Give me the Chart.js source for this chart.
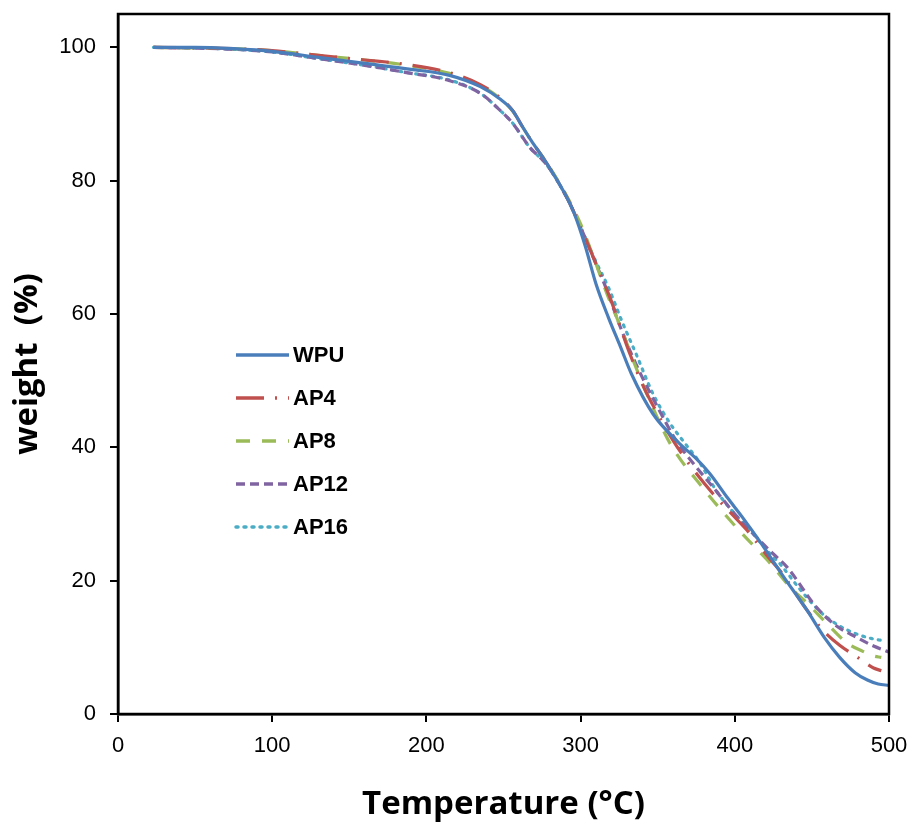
<!DOCTYPE html>
<html>
<head>
<meta charset="utf-8">
<script src="https://cdn.jsdelivr.net/npm/chart.js@4/dist/chart.umd.min.js"></script>
<style>
  html, body { margin: 0; padding: 0; background: #fff; }
  #wrap { width: 913px; height: 823px; position: relative; }
</style>
</head>
<body>
<div id="wrap"><canvas id="chart"></canvas></div>
<script>
// TGA curves, [temperature °C, weight %]
const wpu = [[23,100],[50,100],[75,99.8],[100,99.4],[130,98.5],[160,97.6],[190,96.7],[215,95.8],[235,94.1],[248,92.2],[256,90.5],[262,88.2],[268,86],[278,82.6],[291,77.5],[296,75],[303,70.2],[310,64.5],[318,59.5],[326,55],[333,51],[347,45],[364,40.6],[375,38.3],[384,36],[395,32.5],[405,29.5],[418,25.3],[431,20.8],[447,15.5],[458,11.5],[468,8.5],[478,6.2],[486,5.1],[493,4.5],[500,4.3]];
const ap4 = [[23,100],[75,99.8],[100,99.5],[130,98.8],[160,98.1],[185,97.5],[215,96.2],[235,94.4],[248,92.4],[256,90.5],[262,88.2],[268,86],[278,82.6],[291,77.5],[300,73],[310,67.5],[319,62.5],[332,54],[341,49],[350,45],[360,41],[372,37],[386,33],[398,30],[410,27],[420,24],[431,21],[444,16.5],[457,12.6],[468,10.3],[479,8.6],[490,6.9],[495,6.5]];
const ap8 = [[23,100],[75,99.8],[100,99.5],[130,98.8],[160,98.1],[185,97.4],[215,96.1],[235,94.3],[248,92.3],[256,90.4],[262,88.2],[268,86],[278,82.7],[291,77.7],[300,73.5],[310,67.5],[318,62.5],[326,58],[335,52.5],[343,48],[358,40.6],[379,34],[401,28],[414,24.8],[423,22.6],[436,19],[447,16.6],[460,13.5],[473,10.6],[483,9.4],[490,8.7],[495,8.5]];
const ap12 = [[23,100],[75,99.7],[100,99.3],[130,98.3],[160,97.3],[185,96.3],[215,95],[235,93.1],[248,90.5],[256,88.6],[267,85],[278,82.4],[291,77.5],[300,73],[310,67.5],[317,63.6],[325,58.5],[332,54.5],[340,50.5],[350,46],[362,41],[373,37.6],[386,34],[400,30],[412,27],[425,24],[434,22],[453,16],[466,13.2],[479,11.5],[490,10.2],[500,9.3]];
const ap16 = [[23,100],[75,99.7],[100,99.3],[130,98.3],[160,97.3],[185,96.3],[215,95.1],[235,93.1],[248,90.5],[256,88.6],[267,85],[278,82.4],[291,77.5],[300,73],[310,67.8],[318,64],[327,58.8],[336,54],[347,48],[358,43.6],[368,40.5],[377,37.8],[388,33.5],[400,30],[412,27],[421,24.5],[429,22.6],[443,18.5],[457,15],[468,13.2],[479,12],[489,11.3],[496,11]];

const seriesNames = ["WPU", "AP4", "AP8", "AP12", "AP16"];
const seriesData = [wpu, ap4, ap8, ap12, ap16];
const seriesColors = ["#4a7ebb", "#c0504d", "#9bbb59", "#8064a2", "#4bacc6"];
const seriesDash = [[], [28, 11, 2, 11], [14, 12], [9, 5], [2, 6]];

const xTicks = [0, 100, 200, 300, 400, 500];

// legend drawn inside the plot, like the original
const insideLegend = {
  id: "insideLegend",
  afterDraw(chart) {
    const ctx = chart.ctx;
    ctx.save();
    seriesNames.forEach((name, i) => {
      const y = 355 + i * 43;
      ctx.strokeStyle = seriesColors[i];
      ctx.lineWidth = 3.5;
      ctx.lineCap = i === 4 ? "round" : "butt";
      ctx.setLineDash(seriesDash[i]);
      ctx.beginPath();
      ctx.moveTo(236, y);
      ctx.lineTo(289, y);
      ctx.stroke();
      ctx.setLineDash([]);
      ctx.fillStyle = "#000";
      ctx.font = "bold 22px 'Liberation Sans', Arial, sans-serif";
      ctx.textBaseline = "middle";
      ctx.fillText(name, 293, y + 1);
    });
    ctx.restore();
  },
};

// closed frame around the plot
const frame = {
  id: "frame",
  afterDraw(chart) {
    const a = chart.chartArea;
    const ctx = chart.ctx;
    ctx.save();
    ctx.strokeStyle = "#000";
    ctx.lineWidth = 2.5;
    ctx.strokeRect(a.left, a.top, a.right - a.left, a.bottom - a.top);
    ctx.restore();
  },
};

const ctx = document.getElementById("chart").getContext("2d");
new Chart(ctx, {
  type: "line",
  data: {
    datasets: seriesNames.map((name, i) => ({
      label: name,
      data: seriesData[i].map(([x, y]) => ({ x, y })),
      borderColor: seriesColors[i],
      borderWidth: 3.2,
      borderDash: seriesDash[i],
      borderCapStyle: i === 4 ? "round" : "butt",
      pointRadius: 0,
      cubicInterpolationMode: "monotone",
      fill: false,
    })),
  },
  options: {
    responsive: true,
    maintainAspectRatio: false,
    animation: false,
    layout: { padding: { top: 14, right: 24, left: 0, bottom: 0 } },
    plugins: {
      legend: { display: false },
      tooltip: { enabled: false },
    },
    scales: {
      x: {
        type: "linear",
        min: 0,
        max: 500,
        afterFit: (s) => {
          s.height = 109;
          s.paddingLeft = 0;
          s.paddingRight = 0;
        },
        afterBuildTicks: (s) => { s.ticks = xTicks.map((v) => ({ value: v })); },
        grid: { drawOnChartArea: false, drawTicks: true, tickLength: 8, color: "#000", lineWidth: 2 },
        border: { display: true, color: "#000", width: 2.5 },
        ticks: {
          color: "#000",
          padding: 11,
          maxRotation: 0,
          font: { family: "'Liberation Sans', Arial, sans-serif", size: 22 },
        },
        title: {
          display: true,
          text: "Temperature (°C)",
          color: "#000",
          padding: { top: 0, bottom: 0 },
          font: { family: "'Open Sans', sans-serif", size: 33, weight: "bold", lineHeight: 1.1 },
        },
      },
      y: {
        min: 0,
        max: 105,
        afterFit: (s) => {
          s.width = 118;
          s.paddingTop = 0;
          s.paddingBottom = 0;
        },
        grid: { drawOnChartArea: false, drawTicks: true, tickLength: 8, color: "#000", lineWidth: 2 },
        border: { display: true, color: "#000", width: 2.5 },
        ticks: {
          stepSize: 20,
          includeBounds: false,
          color: "#000",
          padding: 14,
          font: { family: "'Liberation Sans', Arial, sans-serif", size: 22 },
        },
        title: {
          display: true,
          text: "weight  (%)",
          color: "#000",
          padding: { top: 9, bottom: 0 },
          font: { family: "'Open Sans', sans-serif", size: 33, weight: "bold", lineHeight: 1.1 },
        },
      },
    },
  },
  plugins: [insideLegend, frame],
});
</script>
</body>
</html>
